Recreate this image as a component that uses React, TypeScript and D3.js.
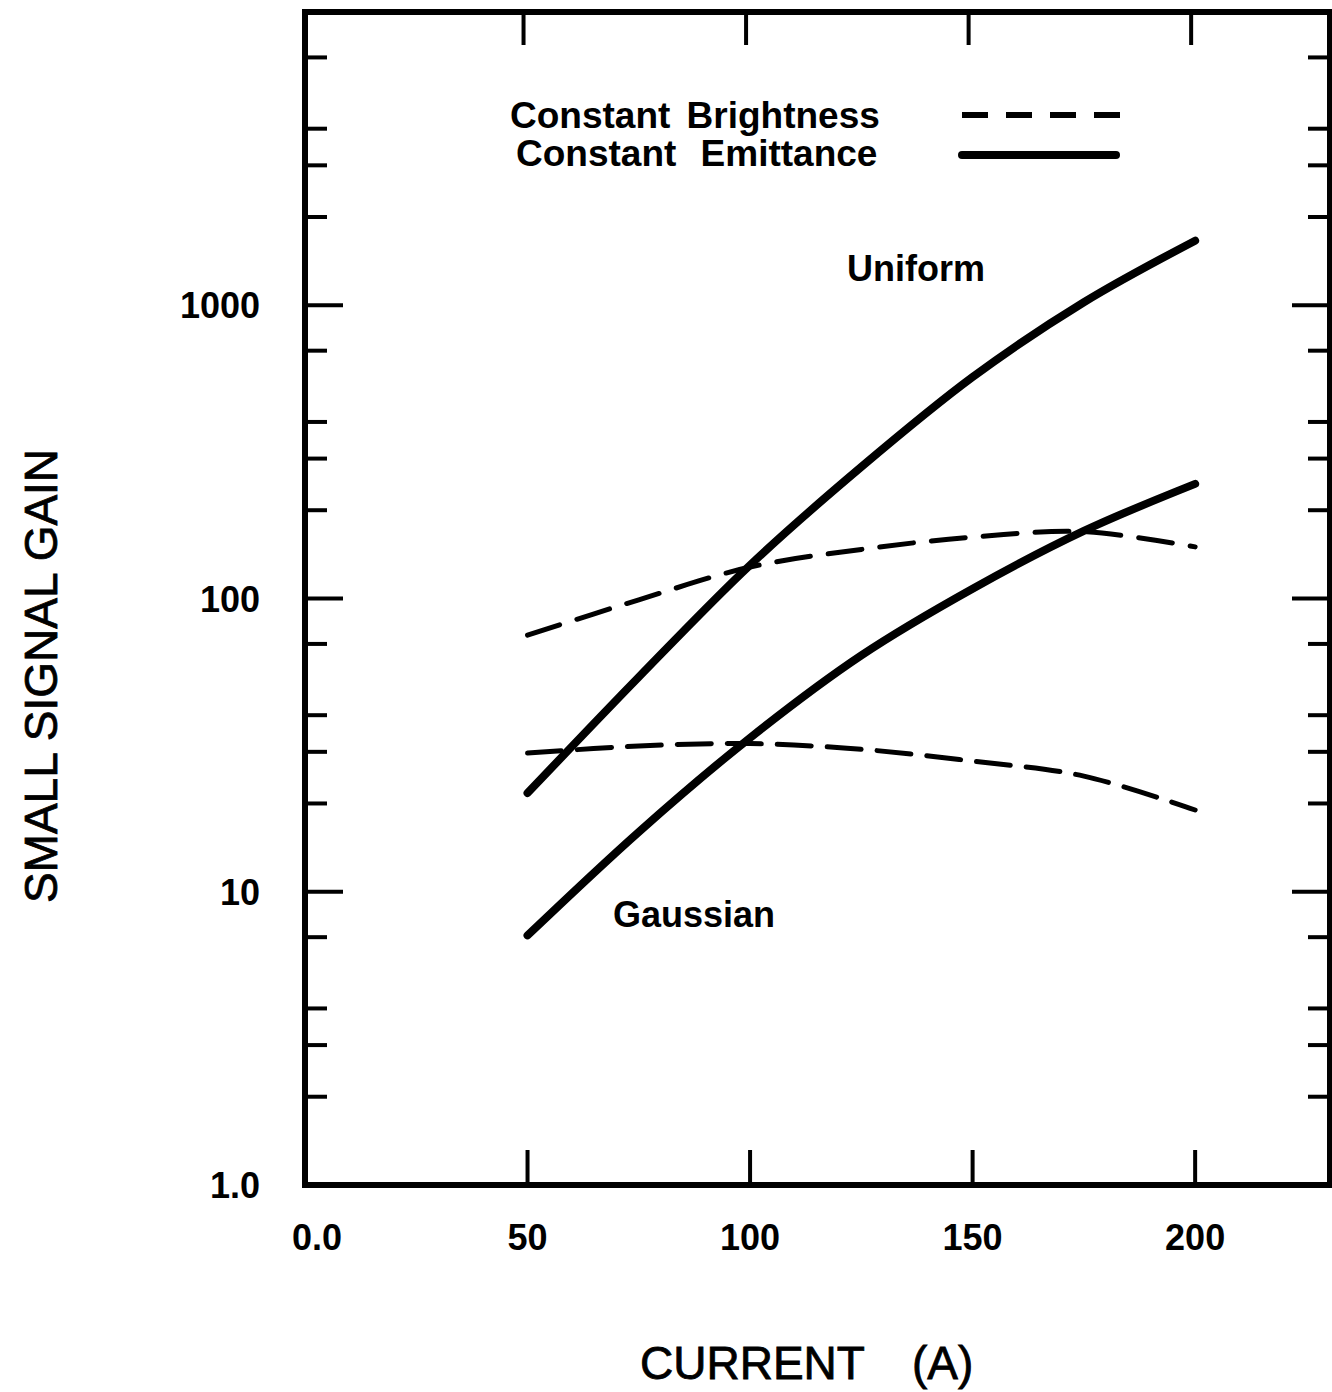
import React from "react";
import * as d3 from "d3";

const currents = [50, 75, 100, 125, 150, 175, 200];
const uniformEmittance = [21.7, 54, 130, 281, 569, 1024, 1660];
const gaussianEmittance = [7.1, 16, 33.5, 64, 108, 170, 246];
const uniformBrightness = [75, 99, 128, 147, 162, 169, 150];
const gaussianBrightness = [29.7, 31.4, 32, 30.6, 27.9, 24.8, 19];

const xTicks = [0, 50, 100, 150, 200];
const xTickLabels = ["0.0", "50", "100", "150", "200"];
const yMajor = [1, 10, 100, 1000];
const yMajorLabels = ["1.0", "10", "100", "1000"];
const yMinorMult = [2, 3, 4, 7];

const legendItems = ["Constant Brightness", "Constant Emittance"];

export default function App() {
  const W = 1332, H = 1392;
  const x = d3.scaleLinear().domain([0, 230.3]).range([305, 1330]);
  const y = d3.scaleLog().domain([1, 10000]).range([1185, 12]);
  const line = d3
    .line<[number, number]>()
    .x((d) => x(d[0]))
    .y((d) => y(d[1]))
    .curve(d3.curveCatmullRom.alpha(0.5));
  const mk = (vals: number[]) => line(currents.map((c, i) => [c, vals[i]] as [number, number])) || "";

  const minors: number[] = [];
  [1, 10, 100, 1000].forEach((dec) => yMinorMult.forEach((m) => minors.push(dec * m)));

  const font = "'Liberation Sans', Arial, Helvetica, sans-serif";
  const x0 = x(0), x1 = x(230.3), yb = y(1), yt = y(10000);

  return (
    <svg width={W} height={H} style={{ display: "block", position: "absolute", left: 0, top: 0 }} fontFamily={font}>
      <rect x={0} y={0} width={W} height={H} fill="#fff" />
      {/* frame */}
      <path d={`M${x0},${yb} L${x0},${yt} L${x1},${yt} L${x1},${yb} Z`} fill="none" stroke="#000" strokeWidth={6} />
      {/* x ticks */}
      {xTicks.slice(1).map((t) => (
        <g key={"xt" + t}>
          <line x1={x(t)} x2={x(t)} y1={yb} y2={yb - 35} stroke="#000" strokeWidth={4} />
          <line x1={x(t) - 4} x2={x(t) - 4} y1={yt} y2={yt + 33} stroke="#000" strokeWidth={4} />
        </g>
      ))}
      {xTicks.map((t, i) => (
        <text key={"xl" + t} x={x(t) + (i === 0 ? 12 : 0)} y={1250} textAnchor="middle" fontSize={36} fontWeight="bold">
          {xTickLabels[i]}
        </text>
      ))}
      {/* y ticks */}
      {yMajor.map((v, i) => (
        <g key={"ym" + v}>
          {v > 1 && <line x1={x0} x2={x0 + 38} y1={y(v)} y2={y(v)} stroke="#000" strokeWidth={4} />}
          {v > 1 && <line x1={x1} x2={x1 - 38} y1={y(v)} y2={y(v)} stroke="#000" strokeWidth={4} />}
          <text x={x0 - 45} y={y(v) + 13} textAnchor="end" fontSize={36} fontWeight="bold">
            {yMajorLabels[i]}
          </text>
        </g>
      ))}
      {minors.map((v) => (
        <g key={"yn" + v}>
          <line x1={x0} x2={x0 + 22} y1={y(v)} y2={y(v)} stroke="#000" strokeWidth={4} />
          <line x1={x1} x2={x1 - 22} y1={y(v)} y2={y(v)} stroke="#000" strokeWidth={4} />
        </g>
      ))}
      {/* curves */}
      <path d={mk(uniformEmittance)} fill="none" stroke="#000" strokeWidth={8} strokeLinecap="round" />
      <path d={mk(gaussianEmittance)} fill="none" stroke="#000" strokeWidth={8} strokeLinecap="round" />
      <path d={mk(uniformBrightness)} fill="none" stroke="#000" strokeWidth={5} strokeDasharray="34 18" strokeLinecap="round" />
      <path d={mk(gaussianBrightness)} fill="none" stroke="#000" strokeWidth={5} strokeDasharray="34 16" strokeLinecap="round" />
      {/* curve labels */}
      <text x={916} y={281} textAnchor="middle" fontSize={36} fontWeight="bold">Uniform</text>
      <text x={694} y={927} textAnchor="middle" fontSize={36} fontWeight="bold">Gaussian</text>
      {/* legend */}
      <text x={510} y={128} fontSize={37} fontWeight="bold" wordSpacing={6}>{legendItems[0]}</text>
      <text x={516} y={166} fontSize={37} fontWeight="bold" wordSpacing={14}>{legendItems[1]}</text>
      <line x1={962} x2={1120} y1={115} y2={115} stroke="#000" strokeWidth={6} strokeDasharray="26 18" />
      <line x1={962} x2={1116} y1={155} y2={155} stroke="#000" strokeWidth={8} strokeLinecap="round" />
      {/* axis titles */}
      <text x={640} y={1379} fontSize={46} stroke="#000" strokeWidth={0.8}>CURRENT</text>
      <text x={912} y={1379} fontSize={46} stroke="#000" strokeWidth={0.8}>(A)</text>
      <text transform="translate(57,676) rotate(-90)" textAnchor="middle" fontSize={46} stroke="#000" strokeWidth={0.8}>
        SMALL SIGNAL GAIN
      </text>
    </svg>
  );
}
